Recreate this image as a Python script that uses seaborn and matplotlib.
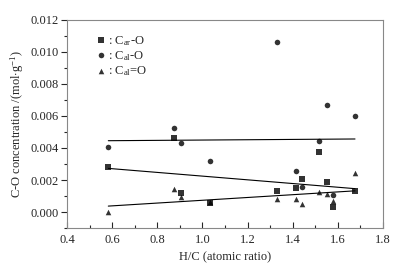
import numpy as np
import pandas as pd
import matplotlib
matplotlib.use("Agg")
import matplotlib.pyplot as plt
import seaborn as sns
from matplotlib.ticker import MultipleLocator

hc = [0.583, 0.875, 0.905, 1.034, 1.329, 1.413, 1.443, 1.517, 1.553, 1.58, 1.676]
car_o = [0.0028, 0.0046, 0.00121, 0.00059, 0.0013, 0.0015, 0.00209, 0.00372, 0.0019, 0.00029, 0.0013]
cal_o = [0.00407, 0.00522, 0.0043, 0.00319, 0.0106, 0.00259, 0.00159, 0.00443, 0.00668, 0.00109, 0.00599]
cal_dbl_o = [0.0, 0.00142, 0.00092, 0.0006, 0.00081, 0.00084, 0.0005, 0.00123, 0.00113, 0.00071, 0.00244]

df = pd.DataFrame({"hc": hc, "car_o": car_o, "cal_o": cal_o, "cal_dbl_o": cal_dbl_o})

sns.set_style("white")
plt.rcParams["font.family"] = ["Liberation Serif", "DejaVu Serif"]
plt.rcParams["mathtext.fontset"] = "custom"
plt.rcParams["mathtext.rm"] = "Liberation Serif"
plt.rcParams["mathtext.it"] = "Liberation Serif:italic"

fig = plt.figure(figsize=(4, 2.69), dpi=100)
ax = fig.add_axes([0.1675, 0.1524, 0.79, 0.7733])

series = [("car_o", "s", r": C$_{\rm ar}$-O"),
          ("cal_o", "o", r": C$_{\rm al}$-O"),
          ("cal_dbl_o", "^", r": C$_{\rm al}$=O")]
for col, mk, lab in series:
    sns.regplot(data=df, x="hc", y=col, ax=ax, ci=None, marker=mk, color="black",
                label=lab, truncate=True,
                scatter_kws={"s": 16, "linewidths": 0},
                line_kws={"lw": 0.8})

ax.set_xlim(0.4, 1.8)
ax.set_ylim(-0.001, 0.012)
ax.xaxis.set_major_locator(MultipleLocator(0.2))
ax.xaxis.set_minor_locator(MultipleLocator(0.1))
ax.yaxis.set_major_locator(MultipleLocator(0.002))
ax.yaxis.set_minor_locator(MultipleLocator(0.001))
ax.xaxis.set_major_formatter(matplotlib.ticker.FormatStrFormatter("%.1f"))
ax.yaxis.set_major_formatter(matplotlib.ticker.FormatStrFormatter("%.3f"))
ax.tick_params(axis="x", which="major", direction="in", length=4, width=0.8, labelsize=9, pad=4)
ax.tick_params(axis="x", which="minor", direction="in", length=2, width=0.8)
ax.tick_params(axis="y", which="major", direction="out", length=4, width=0.8, labelsize=9, pad=2)
ax.tick_params(axis="y", which="minor", direction="out", length=2, width=0.8)
ax.tick_params(top=False, right=False, which="both", bottom=True, left=True)
for s in ax.spines.values():
    s.set_color("#888888")
    s.set_linewidth(0.8)

ax.set_xlabel("H/C (atomic ratio)", fontsize=9, labelpad=4)
ax.set_ylabel(r"C-O concentration /(mol$\cdot$g$^{-1}$)", fontsize=9, labelpad=3)

leg = ax.legend(loc="upper left", bbox_to_anchor=(0.06, 0.97), frameon=False,
                fontsize=9, handletextpad=0.0, labelspacing=0.1, handlelength=1.2,
                borderaxespad=0.2)

fig.savefig("out.png", dpi=100)
